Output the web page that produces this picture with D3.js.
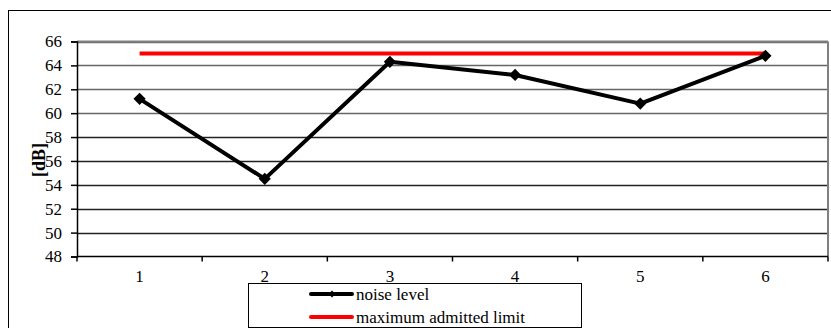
<!DOCTYPE html>
<html>
<head>
<meta charset="utf-8">
<script src="https://cdn.jsdelivr.net/npm/d3@7"></script>
<style>
  body { margin: 0; background: #fff; }
  svg { display: block; }
  svg text { font-family: "Liberation Serif", "Times New Roman", serif; fill: #000; }
</style>
</head>
<body>
<svg width="831" height="328"></svg>
<script>
// data
var categories = ["1", "2", "3", "4", "5", "6"];
var noiseLevel = [61.2, 54.5, 64.3, 63.2, 60.8, 64.8];
var maxLimit = [65, 65, 65, 65, 65, 65];
var yTicks = [48, 50, 52, 54, 56, 58, 60, 62, 64, 66];

var svg = d3.select("svg");

// outer chart frame (runs off right/bottom)
svg.append("rect")
  .attr("x", 8.5).attr("y", 10.5)
  .attr("width", 840).attr("height", 340)
  .attr("fill", "none").attr("stroke", "#000").attr("stroke-width", 1);

var pLeft = 77, pRight = 828, pTop = 41.5, pBottom = 256.5;

var x = d3.scaleBand().domain(categories).range([pLeft, pRight]);
var y = d3.scaleLinear().domain([48, 66]).range([pBottom, pTop]);

// gridlines
svg.append("g").selectAll("line")
  .data(yTicks.slice(1))
  .enter().append("line")
  .attr("x1", pLeft).attr("x2", pRight)
  .attr("y1", function(d) { return Math.round(y(d)) + 0.5; })
  .attr("y2", function(d) { return Math.round(y(d)) + 0.5; })
  .attr("stroke", function(d) { return d >= 60 ? "#666" : "#222"; })
  .attr("stroke-width", 1.5);

// plot area border top/right
svg.append("line")
  .attr("x1", pLeft).attr("x2", pRight).attr("y1", pTop).attr("y2", pTop)
  .attr("stroke", "#808080").attr("stroke-width", 2);
svg.append("line")
  .attr("x1", pRight).attr("x2", pRight).attr("y1", pTop).attr("y2", pBottom)
  .attr("stroke", "#808080").attr("stroke-width", 2);

// y axis
var yAxis = d3.axisLeft(y).tickValues(yTicks).tickSize(6).tickPadding(9);
var gy = svg.append("g").attr("transform", "translate(" + pLeft + ",0)").call(yAxis)
  .attr("font-family", null).attr("font-size", null);
gy.select(".domain").attr("stroke", "#000").attr("stroke-width", 1.5);
gy.selectAll("line").attr("stroke-width", 1.5);
gy.selectAll("text").style("font-size", "17px");

// x axis with ticks between categories
var gx = svg.append("g").attr("transform", "translate(0," + pBottom + ")");
gx.append("line").attr("x1", pLeft).attr("x2", pRight).attr("y1", 0).attr("y2", 0)
  .attr("stroke", "#000").attr("stroke-width", 1.5);
var boundaries = categories.map(function(c) { return x(c); }).concat([pRight]);
gx.selectAll(".tk").data(boundaries).enter().append("line")
  .attr("x1", function(d) { return d; }).attr("x2", function(d) { return d; })
  .attr("y1", 0).attr("y2", 5).attr("stroke", "#000").attr("stroke-width", 1.5);
gx.selectAll("text").data(categories).enter().append("text")
  .attr("x", function(d) { return x(d) + x.bandwidth() / 2; })
  .attr("y", 25)
  .attr("text-anchor", "middle")
  .style("font-size", "17px")
  .text(function(d) { return d; });

// y title
svg.append("text")
  .attr("transform", "translate(45,160) rotate(-90)")
  .attr("text-anchor", "middle")
  .style("font-size", "18px").attr("font-weight", "bold")
  .text("[dB]");

var cx = function(d, i) { return x(categories[i]) + x.bandwidth() / 2; };

// red limit line
svg.append("path")
  .datum(maxLimit)
  .attr("d", d3.line().x(cx).y(function(d) { return y(d); }))
  .attr("fill", "none").attr("stroke", "#ff0000").attr("stroke-width", 4);

// noise line
svg.append("path")
  .datum(noiseLevel)
  .attr("d", d3.line().x(cx).y(function(d) { return y(d); }))
  .attr("fill", "none").attr("stroke", "#000").attr("stroke-width", 4)
  .attr("stroke-linejoin", "round");

var diamond = d3.symbol().type(d3.symbolDiamond2).size(95);
svg.append("g").selectAll("path")
  .data(noiseLevel)
  .enter().append("path")
  .attr("d", diamond)
  .attr("transform", function(d, i) { return "translate(" + cx(d, i) + "," + y(d) + ")"; })
  .attr("fill", "#000");

// legend
var lg = svg.append("g");
lg.append("rect")
  .attr("x", 248.5).attr("y", 283.5).attr("width", 333).attr("height", 44)
  .attr("fill", "#fff").attr("stroke", "#000").attr("stroke-width", 1);
var legendItems = [
  { name: "noise level", color: "#000", marker: true },
  { name: "maximum admitted limit", color: "#ff0000", marker: false }
];
lg.selectAll(".it").data(legendItems).enter().append("g")
  .attr("transform", function(d, i) { return "translate(311," + (294 + i * 23) + ")"; })
  .each(function(d) {
    var g = d3.select(this);
    g.append("line").attr("x1", 0).attr("x2", 41).attr("y1", 0).attr("y2", 0)
      .attr("stroke", d.color).attr("stroke-width", 4).attr("stroke-linecap", "round");
    if (d.marker) {
      g.append("path").attr("d", d3.symbol().type(d3.symbolDiamond2).size(30))
        .attr("transform", "translate(21,0)").attr("fill", "#000");
    }
    g.append("text").attr("x", 45).attr("y", 6).style("font-size", "17px").text(d.name);
  });
</script>
</body>
</html>
